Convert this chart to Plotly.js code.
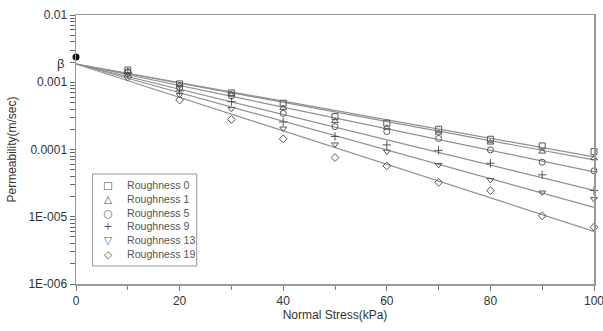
<!DOCTYPE html>
<html>
<head>
<meta charset="utf-8">
<script src="https://cdn.plot.ly/plotly-3.0.1.min.js"></script>
<style>html,body{margin:0;padding:0;background:#fff;}#chart{width:603px;height:331px;}</style>
</head>
<body>
<div id="chart"></div>
<script>
// ---- data ----
const stress = [10, 20, 30, 40, 50, 60, 70, 80, 90, 100];
const seriesNames = ["Roughness 0", "Roughness 1", "Roughness 5", "Roughness 9", "Roughness 13", "Roughness 19"];
const rough0  = [1.52e-3, 9.44e-4, 6.93e-4, 4.88e-4, 3.08e-4, 2.46e-4, 2.00e-4, 1.42e-4, 1.13e-4, 9.3e-5];
const rough1  = [1.47e-3, 9.12e-4, 6.70e-4, 4.15e-4, 2.66e-4, 2.12e-4, 1.78e-4, 1.27e-4, 9.3e-5, 7.43e-5];
const rough5  = [1.42e-3, 8.23e-4, 6.26e-4, 3.44e-4, 2.19e-4, 1.85e-4, 1.46e-4, 9.86e-5, 6.48e-5, 4.81e-5];
const rough9  = [1.37e-3, 7.43e-4, 5.15e-4, 2.57e-4, 1.56e-4, 1.17e-4, 9.7e-5, 6.25e-5, 4.2e-5, 2.45e-5];
const rough13 = [1.28e-3, 6.48e-4, 4.01e-4, 2.05e-4, 1.19e-4, 9.3e-5, 5.9e-5, 3.53e-5, 2.29e-5, 1.83e-5];
const rough19 = [1.20e-3, 5.46e-4, 2.80e-4, 1.44e-4, 7.59e-5, 5.7e-5, 3.25e-5, 2.45e-5, 1.03e-5, 7.0e-6];
const zeroStress = [0];
const zeroValue = [2.38e-3];          // measured point at 0 kPa
const beta = 1.87e-3;                 // fitted intercept (beta)
const fitEnd = [7.76e-5, 7.0e-5, 4.65e-5, 2.47e-5, 1.38e-5, 6.07e-6]; // fitted value at 100 kPa
const yTickVals = [1e-6, 1e-5, 1e-4, 1e-3, 1e-2];
const yTickText = ["1E-006", "1E-005", "0.0001", "0.001", "0.01"];
const xTickVals = [0, 20, 40, 60, 80, 100];
const legendGlyphs = ["\u25A1", "\u25B3", "\u25CB", "+", "\u25BD", "\u25C7"];

const allSeries = [rough0, rough1, rough5, rough9, rough13, rough19];
const symbols = ["square-open", "triangle-up-open", "circle-open", "cross-thin-open", "triangle-down-open", "diamond-open"];

// y ticks: labelled decades plus unlabelled 2..9 ticks in each decade
const yAllVals = [], yAllText = [];
yTickVals.forEach((v, k) => {
  yAllVals.push(v); yAllText.push(yTickText[k]);
  if (k < yTickVals.length - 1) for (let m = 2; m <= 9; m++) { yAllVals.push(m * v); yAllText.push(" "); }
});

const traces = [];
allSeries.forEach((s, i) => {
  traces.push({
    x: [0, stress[stress.length - 1]],
    y: [beta, fitEnd[i]],
    mode: "lines",
    line: {color: "#8f8f8f", width: 1.2},
    showlegend: false,
    hoverinfo: "skip"
  });
});
allSeries.forEach((s, i) => {
  traces.push({
    x: stress,
    y: s,
    name: seriesNames[i],
    mode: "markers",
    showlegend: false,
    cliponaxis: false,
    marker: {symbol: symbols[i], size: 6, color: "#555", line: {color: "#555", width: 1}}
  });
});
traces.push({
  x: zeroStress, y: zeroValue, mode: "markers", showlegend: false, cliponaxis: false,
  marker: {symbol: "circle", size: 7, color: "#111"}
});

const fontFam = "Liberation Sans, Arial, sans-serif";
const legFont = {family: "DejaVu Sans, sans-serif", size: 10.6, color: "#555"};
const layout = {
  width: 603, height: 331,
  margin: {l: 76, r: 9, t: 15, b: 47},
  paper_bgcolor: "#fff", plot_bgcolor: "#fff",
  font: {family: fontFam, size: 12, color: "#333"},
  showlegend: false,
  xaxis: {
    range: [0, 100],
    tickvals: xTickVals,
    ticks: "outside", ticklen: 5, tickcolor: "#777", tickwidth: 1,
    showline: true, linecolor: "#999", linewidth: 1.5, mirror: true,
    showgrid: false, zeroline: false,
    ticklabeloverflow: "allow",
    minor: {dtick: 10, ticks: "outside", ticklen: 4, tickcolor: "#777", showgrid: false},
    tickfont: {size: 12, color: "#333"},
    title: {text: "Normal Stress(kPa)", font: {size: 12, color: "#333"}, standoff: 0}
  },
  yaxis: {
    type: "log",
    range: [-6, -2],
    tickmode: "array", tickvals: yAllVals, ticktext: yAllText,
    ticks: "outside", ticklen: 5, tickcolor: "#666", tickwidth: 1,
    showline: true, linecolor: "#999", linewidth: 1.5, mirror: true,
    showgrid: false, zeroline: false,
    tickfont: {size: 12, color: "#333"},
    title: {text: "Permeability(m/sec)", font: {size: 12, color: "#333"}, standoff: 9}
  },
  shapes: [{
    type: "rect", xref: "paper", yref: "paper",
    x0: 0.032, x1: 0.233, y0: 0.067, y1: 0.409,
    line: {color: "#999", width: 1}, fillcolor: "#fff", layer: "above"
  }],
  annotations: [
    {
      x: 0, y: Math.log10(beta), xref: "x", yref: "y",
      text: "β", showarrow: false, xanchor: "right", xshift: -10,
      font: {size: 13, color: "#333", family: fontFam}
    },
    {
      x: 0.0618, y: 0.2398, xref: "paper", yref: "paper",
      xanchor: "center", yanchor: "middle", align: "center", showarrow: false,
      text: legendGlyphs.join("<br>"), font: legFont
    },
    {
      x: 0.0946, y: 0.2398, xref: "paper", yref: "paper",
      xanchor: "left", yanchor: "middle", align: "left", showarrow: false,
      text: seriesNames.join("<br>"), font: {family: fontFam, size: 10.6, color: "#555"}
    }
  ]
};

Plotly.newPlot("chart", traces, layout, {staticPlot: true, displayModeBar: false});
</script>
</body>
</html>
